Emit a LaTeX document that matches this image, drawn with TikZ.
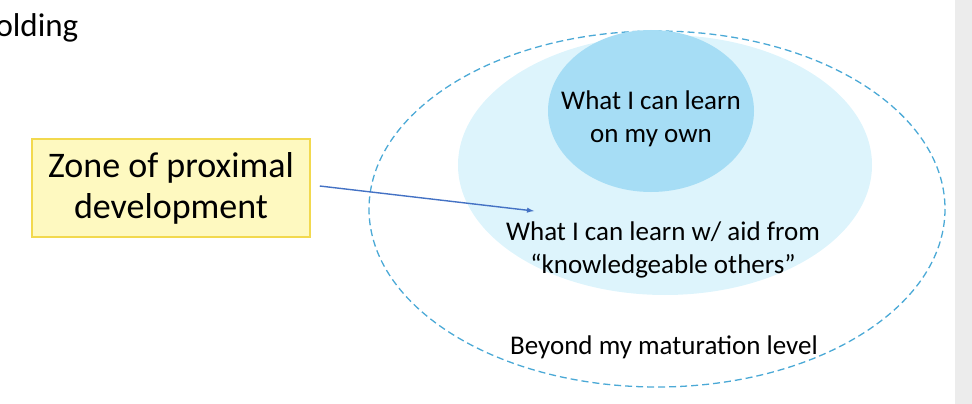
\documentclass[tikz,border=0pt]{standalone}
\usepackage{fontspec}
\setmainfont{Carlito}
\definecolor{inner}{HTML}{A6DDF5}
\definecolor{middle}{HTML}{DDF4FC}
\definecolor{dash}{HTML}{4BA9D6}
\definecolor{arr}{HTML}{4472C4}
\definecolor{boxfill}{HTML}{FEF9C0}
\definecolor{boxdraw}{HTML}{F2D94E}
\begin{document}
\begin{tikzpicture}[x=1pt,y=-1pt,
  lbl/.style={align=center,font=\fontsize{27}{33}\selectfont,text=black},
  box/.style={draw=boxdraw,line width=1.5pt,fill=boxfill,align=center,minimum width=278pt,minimum height=98pt,font=\fontsize{36}{41}\selectfont}]
\useasboundingbox (0,0) rectangle (972,404);
\fill[gray!15] (955,0) rectangle (972,404);
\node[anchor=west,font=\fontsize{33}{38}\selectfont] (title) at (-8,28) {olding};
\draw[dash pattern=on 7pt off 4pt,color=dash,line width=1.3pt] (657,209) ellipse [x radius=288,y radius=178];
\fill[middle] (665,165) ellipse [x radius=207,y radius=130];
\fill[inner] (651,111) ellipse [x radius=103,y radius=81];
\node[lbl] (own) at (651,119) {What I can learn\\on my own};
\node[lbl] (aid) at (663,250) {What I can learn w/ aid from\\“knowledgeable others”};
\node[lbl] (beyond) at (664,347) {Beyond my maturation level};
\node[box] (zpd) at (171,188) {Zone of proximal\\development};
\coordinate (tip) at (534,211);
\draw[-latex,color=arr,line width=1.4pt] (zpd.east)++(9,-2) -- (tip);
\end{tikzpicture}
\end{document}
